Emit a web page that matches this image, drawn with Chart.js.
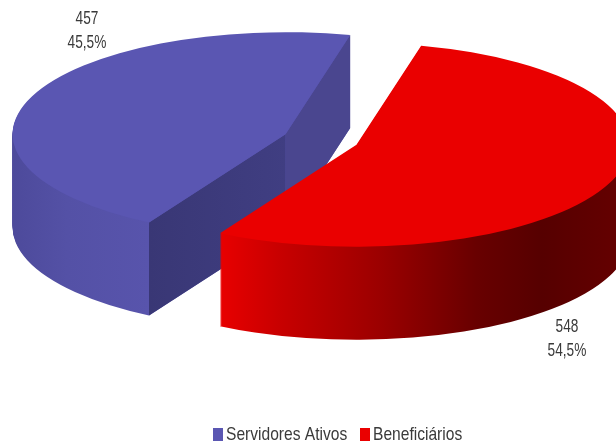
<!DOCTYPE html>
<html>
<head>
<meta charset="utf-8">
<title>Servidores Ativos e Beneficiários</title>
<script src="https://cdn.jsdelivr.net/npm/chart.js@4"></script>
<style>
  html, body { margin: 0; padding: 0; background: #fff; }
  canvas { display: block; }
</style>
</head>
<body>
<canvas id="pie" width="616" height="445"></canvas>
<script>
// Data
const categories = ['Servidores Ativos', 'Beneficiários'];
const values = [457, 548];
const valueLabels = ['457', '548'];
const percentLabels = ['45,5%', '54,5%'];

// Look of the tilted pie
const pieCx = 321, pieCy = 139.5, pieRx = 273, pieRy = 102, pieDepth = 93, explode = 0.14;
const topColors = ['#5a56b2', '#ea0000'];
const font = '"Liberation Sans Narrow", "Liberation Sans", sans-serif';
const textColor = '#3a3a3a';
const labelSpots = [[87, 19, 43], [567, 327, 351]];

// swap the fill on an arc and let the element draw itself
function drawArc(ctx, arc, fill) {
  const saved = arc.options;
  arc.options = {
    backgroundColor: fill, borderColor: 'transparent', borderWidth: 0, borderAlign: 'center',
    borderRadius: 0, offset: 0, spacing: 0, circular: true
  };
  arc.draw(ctx);
  arc.options = saved;
}

function rimGradient(ctx, arc, stops) {
  const r = arc.outerRadius;
  const g = ctx.createLinearGradient(arc.x - r, 0, arc.x + r, 0);
  stops.forEach(s => g.addColorStop(s[0], s[1]));
  return g;
}

function face(ctx, a, b, fill) {
  ctx.beginPath();
  ctx.moveTo(a[0], a[1]);
  ctx.lineTo(b[0], b[1]);
  ctx.lineTo(b[0], b[1] + pieDepth);
  ctx.lineTo(a[0], a[1] + pieDepth);
  ctx.closePath();
  ctx.fillStyle = fill;
  ctx.fill();
}

function drawSlice(ctx, arc, i) {
  const mid = (arc.startAngle + arc.endAngle) / 2;
  const cx = pieCx + Math.cos(mid) * explode * pieRx;
  const cy = pieCy + Math.sin(mid) * explode * pieRy;
  const sx = pieRx / arc.outerRadius, sy = pieRy / arc.outerRadius;

  const place = (dy) => {
    ctx.save();
    ctx.translate(cx, cy + dy);
    ctx.scale(sx, sy);
    ctx.translate(-arc.x, -arc.y);
  };

  const rim = i === 0
    ? rimGradient(ctx, arc, [[0, '#4d4a9b'], [0.1, '#5451a6'], [0.25, '#5854ac'], [1, '#5854ac']])
    : rimGradient(ctx, arc, [[0, '#e80000'], [0.25, '#e80000'], [0.36, '#c80000'], [0.54, '#9c0000'], [0.72, '#680000'], [0.84, '#560000'], [1, '#660000']]);

  for (let d = pieDepth; d >= 1; d--) {
    place(d);
    drawArc(ctx, arc, rim);
    ctx.restore();
  }

  // only the blue slice shows its cut faces
  if (i === 0) {
    const apex = [cx, cy];
    const lower = [cx + Math.cos(arc.startAngle) * pieRx, cy + Math.sin(arc.startAngle) * pieRy];
    const upper = [cx + Math.cos(arc.endAngle) * pieRx, cy + Math.sin(arc.endAngle) * pieRy];
    face(ctx, apex, upper, '#4a468f');
    const g = ctx.createLinearGradient(lower[0], 0, apex[0], 0);
    g.addColorStop(0, '#393775');
    g.addColorStop(1, '#403e82');
    face(ctx, lower, apex, g);
  }

  place(0);
  drawArc(ctx, arc, topColors[i]);
  ctx.restore();
}

function drawText(ctx, text, x, y, size, squeeze, align) {
  ctx.save();
  ctx.translate(x, y);
  ctx.scale(squeeze, 1);
  ctx.font = size + 'px ' + font;
  ctx.fillStyle = textColor;
  ctx.textAlign = align;
  ctx.textBaseline = 'middle';
  ctx.fillText(text, 0, 0);
  ctx.restore();
}

const tiltedPie = {
  id: 'tiltedPie',
  beforeDatasetsDraw(chart) {
    const ctx = chart.ctx;
    chart.getDatasetMeta(0).data.forEach((arc, i) => drawSlice(ctx, arc, i));
    return false;
  },
  afterDraw(chart) {
    const ctx = chart.ctx;
    labelSpots.forEach((s, i) => {
      drawText(ctx, valueLabels[i], s[0], s[1], 18, 0.76, 'center');
      drawText(ctx, percentLabels[i], s[0], s[2], 18, 0.76, 'center');
    });
    // legend: boxes sit closer to the text than the built-in legend allows
    const legend = [[213, 226], [360, 373]];
    categories.forEach((c, i) => {
      ctx.fillStyle = topColors[i];
      ctx.fillRect(legend[i][0], 428, 10, 13);
      drawText(ctx, c, legend[i][1], 435, 19, 0.82, 'left');
    });
  }
};

new Chart(document.getElementById('pie'), {
  type: 'pie',
  data: {
    labels: categories,
    datasets: [{ data: values, backgroundColor: topColors, borderWidth: 0 }]
  },
  options: {
    responsive: false,
    animation: false,
    rotation: 210,
    plugins: {
      legend: { display: false },
      tooltip: { enabled: false }
    }
  },
  plugins: [tiltedPie]
});
</script>
</body>
</html>
